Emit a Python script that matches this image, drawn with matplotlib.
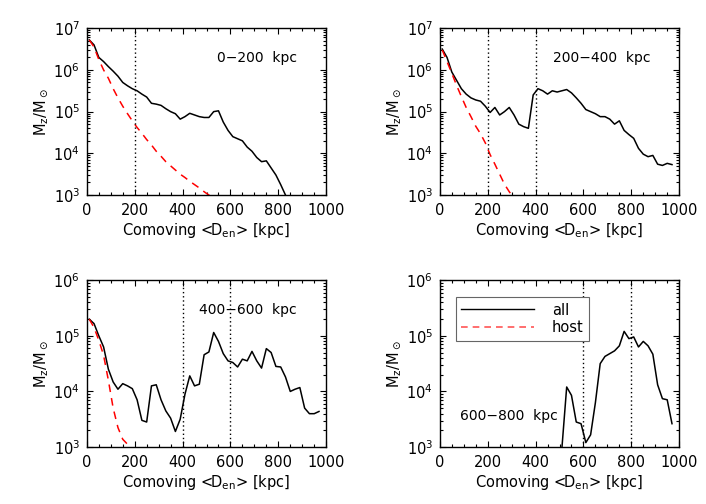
import numpy as np
import matplotlib
matplotlib.use("Agg")
import matplotlib.pyplot as plt
from matplotlib.ticker import LogLocator, MultipleLocator, NullFormatter
from matplotlib.lines import Line2D

plt.rcParams['font.family'] = ['DejaVu Sans']
plt.rcParams['mathtext.default'] = 'regular'

# distance grid (kpc)
d_all = np.arange(10, 980, 20)

# panel 1: 0-200 kpc (log10 M_z)
p1_all = [6.72, 6.6, 6.3, 6.2, 6.08, 5.97, 5.85, 5.7, 5.62, 5.55, 5.5, 5.42, 5.35, 5.2,
          5.18, 5.15, 5.07, 5.0, 4.95, 4.82, 4.88, 4.96, 4.92, 4.88, 4.86, 4.86, 5.0,
          5.02, 4.75, 4.55, 4.4, 4.35, 4.3, 4.15, 4.05, 3.9, 3.8, 3.82, 3.65, 3.48,
          3.25, 3.0, 2.8]
p1_host = [6.72, 6.55, 6.25, 6.0, 5.8, 5.55, 5.33, 5.13, 4.95, 4.78, 4.62, 4.48, 4.33,
           4.2, 4.05, 3.93, 3.8, 3.7, 3.6, 3.5, 3.42, 3.33, 3.25, 3.17, 3.08, 3.0, 2.92]

# panel 2: 200-400 kpc
p2_all = [6.5, 6.3, 5.95, 5.75, 5.55, 5.42, 5.33, 5.28, 5.25, 5.13, 4.98, 5.1, 4.92,
          5.0, 5.1, 4.92, 4.7, 4.64, 4.6, 5.4, 5.55, 5.5, 5.42, 5.5, 5.47, 5.5, 5.53,
          5.45, 5.33, 5.2, 5.05, 5.0, 4.95, 4.88, 4.88, 4.82, 4.7, 4.78, 4.55, 4.45,
          4.36, 4.12, 3.98, 3.92, 3.95, 3.74, 3.71, 3.76, 3.73]
p2_host = [6.48, 6.2, 5.92, 5.63, 5.36, 5.1, 4.88, 4.65, 4.47, 4.25, 3.97, 3.74, 3.5,
           3.26, 3.08, 2.93]

# panel 3: 400-600 kpc
p3_all = [5.3, 5.22, 5.0, 4.8, 4.4, 4.17, 4.04, 4.14, 4.1, 4.05, 3.85, 3.48, 3.45,
          4.1, 4.12, 3.85, 3.65, 3.52, 3.28, 3.5, 3.95, 4.28, 4.1, 4.13, 4.66, 4.71,
          5.06, 4.9, 4.68, 4.55, 4.52, 4.44, 4.58, 4.55, 4.72, 4.55, 4.42, 4.77, 4.7,
          4.45, 4.44, 4.26, 4.0, 4.04, 4.07, 3.7, 3.6, 3.6, 3.64]
p3_host = [5.3, 5.15, 4.92, 4.65, 4.2, 3.7, 3.35, 3.14, 3.05, 2.95]

# panel 4: 600-800 kpc (starts at 490 kpc, below plotted range)
d4 = np.arange(490, 980, 20)
p4_all = [0.0, 2.98, 4.08, 3.93, 3.45, 3.42, 3.08, 3.22, 3.8, 4.5, 4.63, 4.68, 4.73,
          4.82, 5.08, 4.95, 4.98, 4.8, 4.9, 4.82, 4.67, 4.12, 3.87, 3.85, 3.42]

labels = ["0\u2212200  kpc", "200\u2212400  kpc", "400\u2212600  kpc", "600\u2212800  kpc"]
vlines = [[200], [200, 400], [400, 600], [600, 800]]
ylims = [(1e3, 1e7), (1e3, 1e7), (1e3, 1e6), (1e3, 1e6)]
label_pos = [(0.545, 0.82), (0.473, 0.82), (0.469, 0.82), (0.084, 0.186)]

panels = [
    (d_all[:len(p1_all)], p1_all, d_all[:len(p1_host)], p1_host),
    (d_all[:len(p2_all)], p2_all, d_all[:len(p2_host)], p2_host),
    (d_all[:len(p3_all)], p3_all, d_all[:len(p3_host)], p3_host),
    (d4, p4_all, None, None),
]

fig = plt.figure(figsize=(7.06, 5.04), dpi=100)
rects = [(0.123, 0.613, 0.339, 0.331), (0.623, 0.613, 0.339, 0.331),
         (0.123, 0.113, 0.339, 0.331), (0.623, 0.113, 0.339, 0.331)]

fs = 10.5
for i, (rect, (xa, ya, xh, yh)) in enumerate(zip(rects, panels)):
    ax = fig.add_axes(rect)
    ax.plot(xa, 10 ** np.array(ya), color='black', lw=1.1, label='all')
    if xh is not None:
        ax.plot(xh, 10 ** np.array(yh), color='red', lw=1.1, ls=(0, (5, 4)), label='host')
    for v in vlines[i]:
        ax.axvline(v, color='black', lw=1.0, ls=(0, (1, 2)))
    ax.set_yscale('log')
    ax.set_xlim(0, 1000)
    ax.set_ylim(*ylims[i])
    ax.xaxis.set_major_locator(MultipleLocator(200))
    ax.xaxis.set_minor_locator(MultipleLocator(50))
    ax.yaxis.set_major_locator(LogLocator(base=10))
    ax.yaxis.set_minor_locator(LogLocator(base=10, subs=np.arange(2, 10)))
    ax.yaxis.set_minor_formatter(NullFormatter())
    ax.tick_params(which='both', direction='in', top=True, right=True, labelsize=fs)
    ax.tick_params(axis='x', which='major', pad=6)
    ax.tick_params(axis='y', which='major', pad=5)
    ax.tick_params(which='major', length=4, width=0.8)
    ax.tick_params(which='minor', length=2, width=0.8)
    for s in ax.spines.values():
        s.set_linewidth(1.0)
    ax.set_xlabel("Comoving <D$_{en}$> [kpc]", fontsize=fs, labelpad=2)
    ax.set_ylabel("M$_z$/M$_\\odot$", fontsize=fs, labelpad=2)
    ax.text(label_pos[i][0], label_pos[i][1], labels[i], transform=ax.transAxes,
            fontsize=fs - 0.5, va='center', ha='left')
    if i == 3:
        handles = [Line2D([], [], color='black', lw=1.0),
                   Line2D([], [], color='#ff5555', lw=1.2, ls=(0, (4, 3)))]
        leg = ax.legend(handles, ['all', 'host'], loc='upper left',
                        bbox_to_anchor=(0.035, 0.945), fontsize=fs, frameon=True,
                        fancybox=False, edgecolor='#666666', framealpha=1,
                        handlelength=5.0, borderpad=0.4, labelspacing=0.2,
                        handletextpad=1.2)
        leg.get_frame().set_linewidth(0.8)

fig.savefig("out.png", dpi=100)
